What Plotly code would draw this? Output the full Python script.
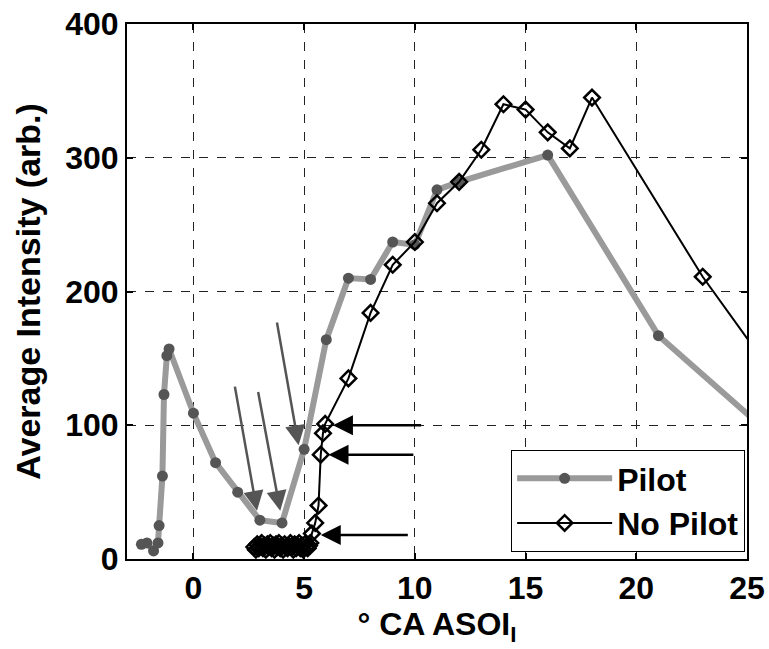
import plotly.graph_objects as go

# Average intensity vs crank angle after start of injection
pilot_x = [-2.35, -2.1, -1.8, -1.6, -1.55, -1.4, -1.33, -1.2, -1.1, 0, 1, 2, 3, 4, 5, 6, 7, 8, 9, 10, 11, 12, 16, 21, 26]
pilot_y = [11, 12, 6, 12, 25, 62, 123, 152, 157, 109, 72, 50, 29, 27, 82, 164, 210, 209, 237, 235, 276, 282, 302, 167, 94]

nopilot_x = [2.75, 2.82, 2.88, 2.95, 3.01, 3.08, 3.14, 3.21, 3.27, 3.34, 3.40, 3.47, 3.53, 3.60,
             3.66, 3.73, 3.79, 3.86, 3.92, 3.99, 4.05, 4.12, 4.18, 4.25, 4.31, 4.38, 4.44, 4.51,
             4.57, 4.64, 4.70, 4.77, 4.83, 4.90, 4.96, 5.03, 5.09, 5.16, 5.22, 5.28,
             5.35, 5.5, 5.65, 5.75, 5.85, 5.95, 7, 8, 9, 10, 11, 12, 13, 14, 15, 16, 17, 18, 23, 28]
nopilot_y = [9, 7, 11, 8, 10, 12, 8, 10, 7, 11, 9, 12, 8, 10,
             7, 11, 9, 12, 8, 10, 7, 11, 9, 8, 10, 12, 9, 7,
             11, 8, 10, 12, 8, 10, 7, 11, 9, 8, 10, 12,
             19, 27, 40, 78, 94, 101, 135, 184, 220, 237, 266, 282, 306, 340, 336, 319, 307, 345, 211, 96]

# Arrows: (tail_x, tail_y, tip_x, tip_y)
gray_arrows = [(1.86, 130, 2.87, 36), (2.91, 126, 3.92, 36), (3.76, 178, 4.75, 85)]
black_arrows = [(10.35, 100, 6.3, 100), (10.0, 78, 6.1, 78), (9.75, 18, 5.75, 18)]

FONT = "Liberation Sans, Arial, sans-serif"

fig = go.Figure()
fig.add_trace(go.Scatter(
    x=pilot_x, y=pilot_y, mode="lines+markers", name="Pilot",
    line=dict(color="#9a9a9a", width=6),
    marker=dict(symbol="circle", size=11, color="#555555"),
))
fig.add_trace(go.Scatter(
    x=nopilot_x, y=nopilot_y, mode="lines+markers", name="No Pilot",
    line=dict(color="black", width=2),
    marker=dict(symbol="diamond-open", size=12, color="black", line=dict(color="black", width=2.5)),
))

for tx, ty, hx, hy in gray_arrows:
    fig.add_annotation(x=hx, y=hy, ax=tx, ay=ty, xref="x", yref="y", axref="x", ayref="y",
                       text="", showarrow=True, arrowhead=2, arrowsize=1.6,
                       arrowwidth=2.5, arrowcolor="#555555")
for tx, ty, hx, hy in black_arrows:
    fig.add_annotation(x=hx, y=hy, ax=tx, ay=ty, xref="x", yref="y", axref="x", ayref="y",
                       text="", showarrow=True, arrowhead=2, arrowsize=1.6,
                       arrowwidth=2.5, arrowcolor="black")

axis_common = dict(
    showgrid=True, gridcolor="#222222", gridwidth=1, griddash="dash",
    zeroline=False, showline=True, linecolor="black", linewidth=2, mirror="ticks",
    ticks="inside", ticklen=6, tickwidth=2, tickcolor="black", automargin=False,
    tickfont=dict(family=FONT, size=32, color="black", weight="bold"),
)

fig.update_layout(
    width=769, height=649,
    margin=dict(l=127, r=22, t=24, b=90),
    paper_bgcolor="white", plot_bgcolor="white",
    font=dict(family=FONT, color="black"),
    xaxis=dict(range=[-3, 25], tickvals=[0, 5, 10, 15, 20, 25],
               title=dict(text="° CA ASOI<sub>I</sub>", standoff=2,
                          font=dict(family=FONT, size=32, weight="bold")),
               **axis_common),
    yaxis=dict(range=[0, 400], tickvals=[0, 100, 200, 300, 400],
               title=dict(text="Average Intensity (arb.)", standoff=14,
                          font=dict(family=FONT, size=34, weight="bold")),
               **axis_common),
    legend=dict(x=0.997, y=0.013, xanchor="right", yanchor="bottom",
                bgcolor="white", bordercolor="black", borderwidth=1,
                font=dict(family=FONT, size=32, color="black", weight="bold"),
                itemwidth=95, tracegroupgap=0),
    showlegend=True,
)

fig.write_html("out.html")
